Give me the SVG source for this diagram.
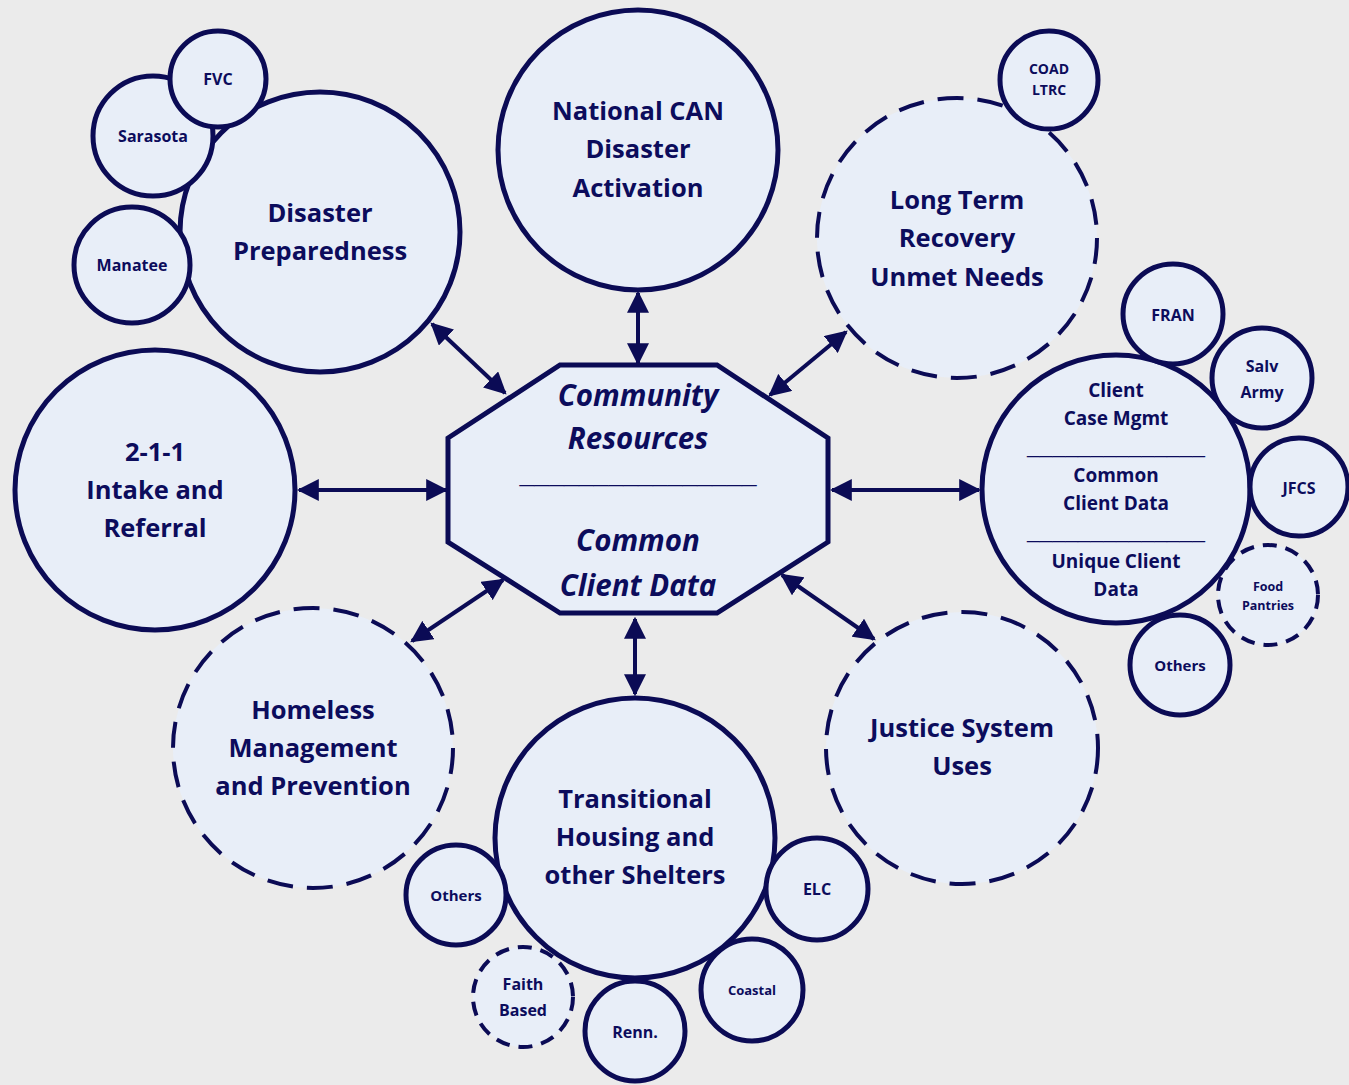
<svg xmlns="http://www.w3.org/2000/svg" width="1349" height="1085" viewBox="0 0 1349 1085">
<defs>
<style>
.n{fill:#e8eef8;stroke:#0b0b55;stroke-width:5}
.d{fill:#e8eef8;stroke:#0b0b55;stroke-width:4;stroke-dasharray:26 14}
.ds{fill:#e8eef8;stroke:#0b0b55;stroke-width:4;stroke-dasharray:14 9}
text{font-family:"Open Sans",Lato,"Liberation Sans",sans-serif;font-weight:bold;fill:#0c0c5c;text-anchor:middle}
.b{font-size:25.5px}
.s{font-size:16px}
.c{font-size:19px}
.o{font-size:29.5px;font-style:italic}
.u{font-family:"Liberation Sans",sans-serif;font-weight:bold;font-size:28px}
.con{stroke:#0b0b55;stroke-width:4;fill:none;marker-start:url(#ah);marker-end:url(#ah)}
</style>
<marker id="ah" viewBox="0 0 10 10" refX="9" refY="5" markerWidth="5.5" markerHeight="5.5" orient="auto-start-reverse" markerUnits="strokeWidth">
<path d="M0,0 L10,5 L0,10 z" fill="#0b0b55"/>
</marker>
</defs>
<rect width="1349" height="1085" fill="#ebebeb"/>

<g id="disaster-preparedness">
<circle class="n" cx="320" cy="232" r="140"/>
<text class="b" x="320" y="222">Disaster</text>
<text class="b" x="320" y="260">Preparedness</text>
</g>
<g id="sarasota">
<circle class="n" cx="153" cy="136" r="60"/>
<text class="s" x="153" y="142">Sarasota</text>
</g>
<g id="fvc">
<circle class="n" cx="218" cy="79" r="48"/>
<text class="s" x="218" y="85">FVC</text>
</g>
<g id="manatee">
<circle class="n" cx="132" cy="265" r="58"/>
<text class="s" x="132" y="271">Manatee</text>
</g>

<g id="national-can">
<circle class="n" cx="638" cy="150" r="140"/>
<text class="b" x="638" y="120">National CAN</text>
<text class="b" x="638" y="158">Disaster</text>
<text class="b" x="638" y="197">Activation</text>
</g>

<g id="long-term-recovery">
<circle class="d" cx="957" cy="238" r="140"/>
<text class="b" x="957" y="209">Long Term</text>
<text class="b" x="957" y="247">Recovery</text>
<text class="b" x="957" y="286">Unmet Needs</text>
</g>
<g id="coad-ltrc">
<circle class="n" cx="1049" cy="80" r="49"/>
<text x="1049" y="74" font-size="14">COAD</text>
<text x="1049" y="95" font-size="14">LTRC</text>
</g>

<g id="two-one-one">
<circle class="n" cx="155" cy="490" r="140"/>
<text class="b" x="155" y="461">2-1-1</text>
<text class="b" x="155" y="499">Intake and</text>
<text class="b" x="155" y="537">Referral</text>
</g>

<g id="food-pantries">
<circle class="ds" cx="1268" cy="595" r="50"/>
<text x="1268" y="591" font-size="12.5">Food</text>
<text x="1268" y="610" font-size="12.5">Pantries</text>
</g>
<g id="client-case-mgmt">
<circle class="n" cx="1116" cy="489" r="134"/>
<text class="c" x="1116" y="397">Client</text>
<text class="c" x="1116" y="425">Case Mgmt</text>
<text class="u" x="1116" y="454" textLength="178" lengthAdjust="spacingAndGlyphs">______________</text>
<text class="c" x="1116" y="482">Common</text>
<text class="c" x="1116" y="510">Client Data</text>
<text class="u" x="1116" y="539" textLength="178" lengthAdjust="spacingAndGlyphs">______________</text>
<text class="c" x="1116" y="568">Unique Client</text>
<text class="c" x="1116" y="596">Data</text>
</g>
<g id="fran">
<circle class="n" cx="1173" cy="314" r="50"/>
<text class="s" x="1173" y="321">FRAN</text>
</g>
<g id="salv-army">
<circle class="n" cx="1262" cy="378" r="50"/>
<text class="s" x="1262" y="372">Salv</text>
<text class="s" x="1262" y="398">Army</text>
</g>
<g id="jfcs">
<circle class="n" cx="1299" cy="487" r="49"/>
<text class="s" x="1299" y="494">JFCS</text>
</g>
<g id="others-right">
<circle class="n" cx="1180" cy="665" r="50"/>
<text x="1180" y="671" font-size="15">Others</text>
</g>

<g id="homeless">
<circle class="d" cx="313" cy="748" r="140"/>
<text class="b" x="313" y="719">Homeless</text>
<text class="b" x="313" y="757">Management</text>
<text class="b" x="313" y="795">and Prevention</text>
</g>

<g id="justice">
<circle class="d" cx="962" cy="748" r="136"/>
<text class="b" x="962" y="737">Justice System</text>
<text class="b" x="962" y="775">Uses</text>
</g>

<g id="faith-based">
<circle class="ds" cx="523" cy="997" r="50"/>
<text x="523" y="990" font-size="16">Faith</text>
<text x="523" y="1016" font-size="16">Based</text>
</g>
<g id="transitional-housing">
<circle class="n" cx="635" cy="838" r="140"/>
<text class="b" x="635" y="808">Transitional</text>
<text class="b" x="635" y="846">Housing and</text>
<text class="b" x="635" y="884">other Shelters</text>
</g>
<g id="others-bottom">
<circle class="n" cx="456" cy="895" r="50"/>
<text x="456" y="901" font-size="15">Others</text>
</g>
<g id="renn">
<circle class="n" cx="635" cy="1031" r="50"/>
<text class="s" x="635" y="1038">Renn.</text>
</g>
<g id="coastal">
<circle class="n" cx="752" cy="990" r="51"/>
<text x="752" y="995" font-size="13">Coastal</text>
</g>
<g id="elc">
<circle class="n" cx="817" cy="889" r="51"/>
<text class="s" x="817" y="895">ELC</text>
</g>

<g id="connectors">
<line class="con" x1="432" y1="324" x2="505" y2="393"/>
<line class="con" x1="638" y1="293" x2="638" y2="363"/>
<line class="con" x1="846" y1="332" x2="770" y2="395"/>
<line class="con" x1="299" y1="490" x2="446" y2="490"/>
<line class="con" x1="832" y1="490" x2="979" y2="490"/>
<line class="con" x1="412" y1="641" x2="503" y2="580"/>
<line class="con" x1="635" y1="619" x2="635" y2="694"/>
<line class="con" x1="782" y1="575" x2="874" y2="639"/>
</g>

<g id="community-resources">
<polygon class="n" points="560,365 717,365 828,438 828,542 717,613 560,613 448,542 448,438"/>
<text class="o" x="638" y="406">Community</text>
<text class="o" x="638" y="449">Resources</text>
<text class="u" x="638" y="483" textLength="237" lengthAdjust="spacingAndGlyphs">________________</text>
<text class="o" x="638" y="551">Common</text>
<text class="o" x="638" y="596">Client Data</text>
</g>
</svg>
